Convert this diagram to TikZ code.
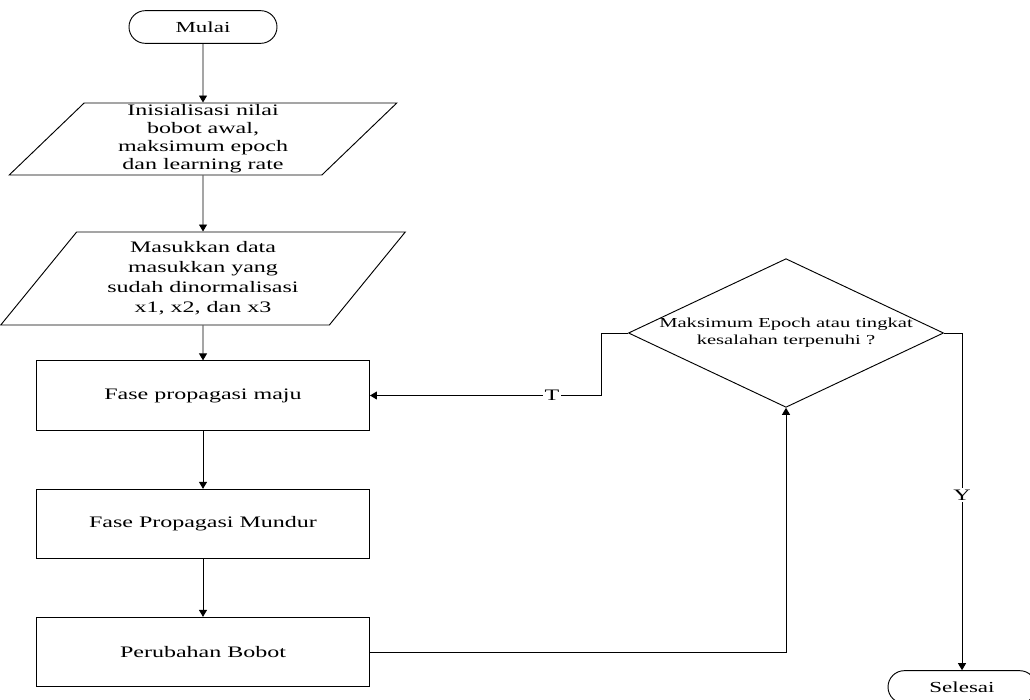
\documentclass[tikz,border=0pt]{standalone}
\usepackage{fontspec}
\setmainfont{Liberation Serif}[FakeStretch=1.5]
\usetikzlibrary{shapes.geometric,shapes.misc,arrows.meta}
\begin{document}
\begin{tikzpicture}[x=0.75pt,y=-0.75pt,
  line/.style={draw=black,line width=0.7pt},
  arr/.style={line, -{Triangle[length=5.25pt,width=6pt]}},
  term/.style={rounded rectangle, draw, line width=0.7pt, minimum width=111pt, minimum height=24.5pt, inner sep=0pt, font=\fontsize{11.5}{13}\selectfont},
  io/.style={trapezium, trapezium left angle=52, trapezium right angle=128, trapezium stretches=true, draw, line width=0.7pt, inner sep=0pt, align=center},
  proc/.style={rectangle, draw, line width=0.7pt, minimum width=249.75pt, minimum height=52pt, inner sep=0pt, font=\fontsize{12}{14}\selectfont},
  dec/.style={diamond, draw, line width=0.7pt, minimum width=235.5pt, minimum height=111pt, inner sep=0pt, aspect=2.12, align=center, font=\fontsize{10.3}{12.5}\selectfont},
  lab/.style={fill=white, inner sep=1pt, font=\fontsize{12}{14}\selectfont}
]
\useasboundingbox (0,0) rectangle (1030,699);
\node[term] (start) at (203,27) {Mulai};
\node[io, minimum width=291pt, minimum height=54pt, font=\fontsize{12}{13.5}\selectfont] (init) at (203,139) {Inisialisasi nilai\\bobot awal,\\maksimum epoch\\dan learning rate};
\node[io, minimum width=303.75pt, minimum height=69.75pt, font=\fontsize{12}{15}\selectfont] (data) at (203,278.5) {Masukkan data\\masukkan yang\\sudah dinormalisasi\\x1, x2, dan x3};
\node[proc] (fwd) at (203,395.5) {Fase propagasi maju};
\node[proc] (bwd) at (203,524) {Fase Propagasi Mundur};
\node[proc] (upd) at (203,652) {Perubahan Bobot};
\node[dec] (cond) at (786,333) {Maksimum Epoch atau tingkat\\kesalahan terpenuhi ?};
\node[term] (stop) at (962,687) {Selesai};
\coordinate (tturn) at (601,333);
\draw[arr] (start) -- (init);
\draw[arr] (init) -- (data);
\draw[arr] (data) -- (fwd);
\draw[arr] (fwd) -- (bwd);
\draw[arr] (bwd) -- (upd);
\draw[arr] (upd.east) -| (cond.south);
\draw[arr] (cond.west) -- (tturn) |- (fwd.east);
\draw[arr] (cond.east) -| (stop.north);
\node[lab] (tlab) at (552,395.5) {T};
\node[lab] (ylab) at (962,495) {Y};
\end{tikzpicture}
\end{document}
